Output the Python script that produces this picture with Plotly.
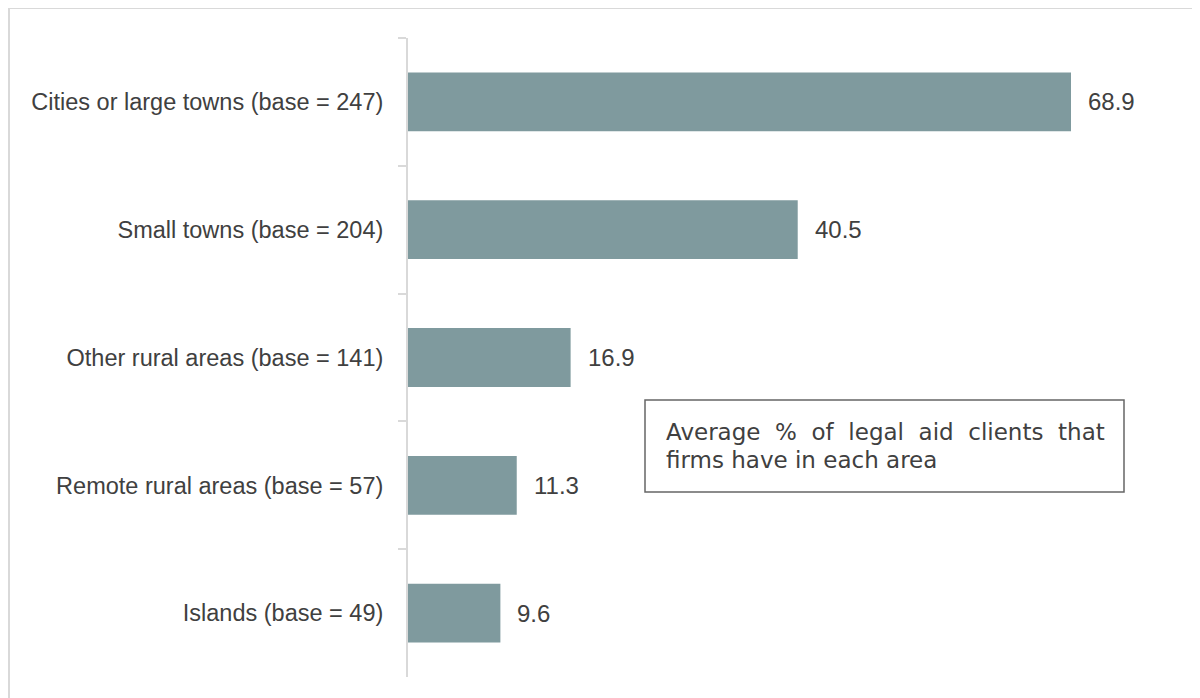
import plotly.graph_objects as go

categories = [
    "Cities or large towns (base = 247)",
    "Small towns (base = 204)",
    "Other rural areas (base = 141)",
    "Remote rural areas (base = 57)",
    "Islands (base = 49)",
]
values = [68.9, 40.5, 16.9, 11.3, 9.6]
labels = ["68.9", "40.5", "16.9", "11.3", "9.6"]
note_lines = [
    "Average\u00a0 %\u00a0 of\u00a0 legal\u00a0 aid\u00a0 clients\u00a0 that",
    "firms have in each area",
]

# page has an 8px body margin; layout coords = reference coords - 8
W, H = 1192, 690
L, R, T, B = 400, 10, 30, 21
pw, ph = W - L - R, H - T - B


def px(x):
    return (x - 8 - L) / pw


def py(y):
    return (H - B - (y - 8)) / ph


fig = go.Figure(go.Bar(
    x=values, y=categories, orientation="h",
    marker=dict(color="#7F9A9E", line=dict(width=0)),
    hoverinfo="skip",
))

for v, c, t in zip(values, categories, labels):
    fig.add_annotation(x=v, y=c, text=t, showarrow=False, xanchor="left",
                       xshift=15, font=dict(family="Arial", size=24, color="#404040"))

# note box
fig.add_shape(type="rect", xref="paper", yref="paper",
              x0=px(645), x1=px(1124), y0=py(492), y1=py(400),
              line=dict(color="#666666", width=1.5), fillcolor="white")
# base size sets the line pitch (1.3em ~ 27.5px); glyphs drawn at 23px
note_text = "<br>".join(f'<span style="font-size:23px">{s}</span>' for s in note_lines)
fig.add_annotation(x=px(664), y=py(446), xref="paper", yref="paper",
                   text=note_text, showarrow=False, xanchor="left", yanchor="middle",
                   align="left",
                   font=dict(family="DejaVu Sans", size=21.2, color="#404040"))

# outer frame
fig.add_shape(type="rect", xref="paper", yref="paper",
              x0=px(9), x1=px(1215), y0=py(720), y1=py(8),
              line=dict(color="#D9D9D9", width=2))

fig.update_layout(
    width=W, height=H,
    margin=dict(l=L, r=R, t=T, b=B),
    paper_bgcolor="white", plot_bgcolor="white",
    bargap=0.54, showlegend=False,
    xaxis=dict(range=[0, pw / ((1071 - 408) / 68.9)], visible=False, fixedrange=True),
    yaxis=dict(
        autorange="reversed", tickson="boundaries", ticks="outside",
        ticklen=8, tickcolor="#D9D9D9", tickwidth=1.5,
        showline=True, linecolor="#D9D9D9", linewidth=2,
        tickfont=dict(family="Arial", size=23.5, color="#404040"),
        ticklabelstandoff=18, showgrid=False,
    ),
)

fig.write_html("out.html")
